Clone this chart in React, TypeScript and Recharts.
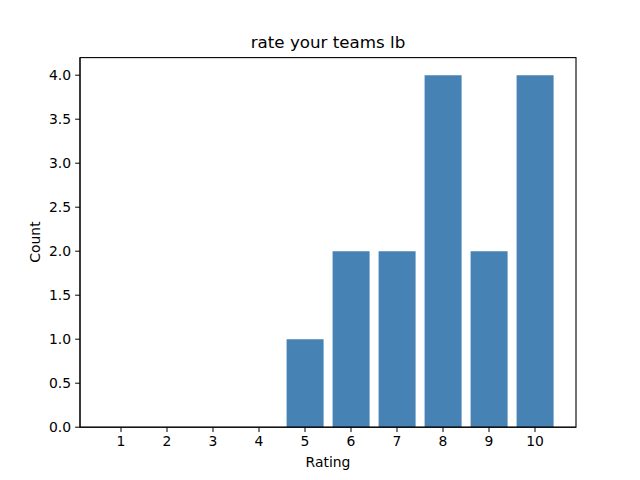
import React from "react";
import {
  BarChart,
  Bar,
  XAxis,
  YAxis,
} from "recharts";

// Ratings 1..10 with response counts
const RATINGS = ["1", "2", "3", "4", "5", "6", "7", "8", "9", "10"];
const COUNTS = [0, 0, 0, 0, 1, 2, 2, 4, 2, 4];
const Y_TICKS = [0, 0.5, 1, 1.5, 2, 2.5, 3, 3.5, 4];

const TITLE = "rate your teams lb";
const X_LABEL = "Rating";
const Y_LABEL = "Count";

const FONT = "'DejaVu Sans', sans-serif";
const TICK_PX = 13.9;
const TICK_LEN = 4.86;

const data = RATINGS.map((r, i) => ({ rating: r, count: COUNTS[i] }));

export default function App() {
  return (
    <div
      style={{
        position: "absolute",
        left: 0,
        top: 0,
        width: 640,
        height: 480,
        background: "#fff",
        fontFamily: FONT,
      }}
    >
      <BarChart
        width={640}
        height={480}
        data={data}
        barCategoryGap="10%"
        margin={{ top: 57.6, right: 64, bottom: 22.8, left: 20 }}
      >
        <XAxis
          dataKey="rating"
          height={30}
          padding={{ left: 18, right: 18 }}
          stroke="#000"
          tickSize={TICK_LEN}
          tickMargin={4}
          tick={{ fill: "#000", fontSize: TICK_PX, fontFamily: FONT }}
          interval={0}
        />
        <YAxis
          width={60}
          domain={[0, 4.2]}
          ticks={Y_TICKS}
          stroke="#000"
          tickSize={TICK_LEN}
          tickMargin={4}
          tickFormatter={(v: number) => v.toFixed(1)}
          tick={{ fill: "#000", fontSize: TICK_PX, fontFamily: FONT }}
          allowDataOverflow
        />
        <Bar dataKey="count" fill="#4682b4" isAnimationActive={false} />
      </BarChart>
      {/* frame: top and right spines */}
      <svg
        width={640}
        height={480}
        style={{ position: "absolute", left: 0, top: 0, pointerEvents: "none" }}
      >
        <rect
          x={80}
          y={57.6}
          width={496}
          height={369.6}
          fill="none"
          stroke="#000"
          strokeWidth={1.1}
        />
      </svg>
      <div
        style={{
          position: "absolute",
          left: 80,
          width: 496,
          top: 32,
          textAlign: "center",
          fontSize: 16.7,
          lineHeight: "20px",
          color: "#000",
        }}
      >
        {TITLE}
      </div>
      <div
        style={{
          position: "absolute",
          left: 80,
          width: 496,
          top: 453,
          textAlign: "center",
          fontSize: TICK_PX,
          lineHeight: "18px",
          color: "#000",
        }}
      >
        {X_LABEL}
      </div>
      <div
        style={{
          position: "absolute",
          left: 35,
          top: 242,
          transform: "translate(-50%, -50%) rotate(-90deg)",
          fontSize: TICK_PX,
          lineHeight: "18px",
          color: "#000",
          whiteSpace: "nowrap",
        }}
      >
        {Y_LABEL}
      </div>
    </div>
  );
}
